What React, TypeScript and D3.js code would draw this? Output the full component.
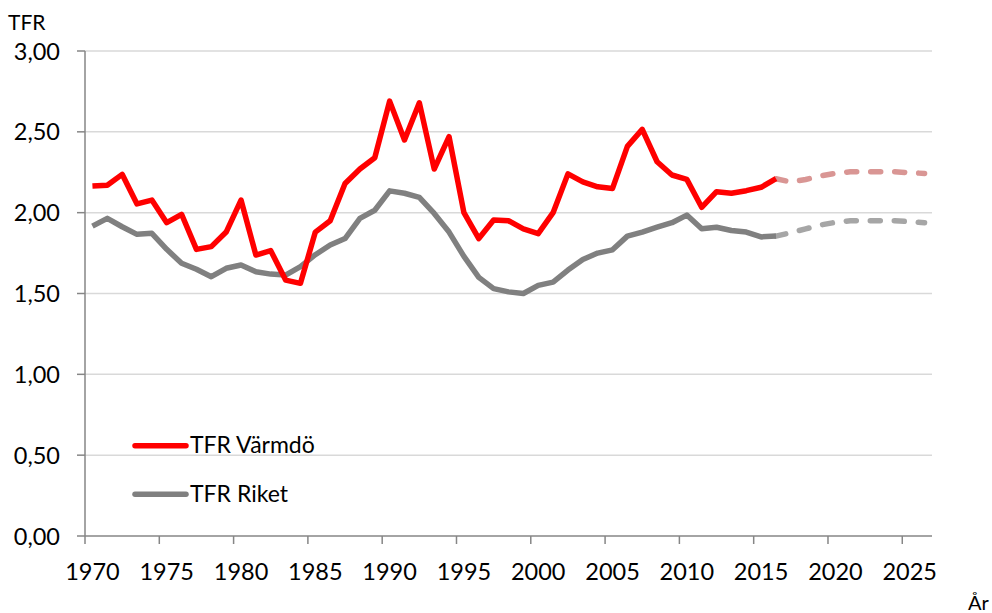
import React from "react";
import * as d3 from "d3";

const actualYears = [
  1970, 1971, 1972, 1973, 1974, 1975, 1976, 1977, 1978, 1979,
  1980, 1981, 1982, 1983, 1984, 1985, 1986, 1987, 1988, 1989,
  1990, 1991, 1992, 1993, 1994, 1995, 1996, 1997, 1998, 1999,
  2000, 2001, 2002, 2003, 2004, 2005, 2006, 2007, 2008, 2009,
  2010, 2011, 2012, 2013, 2014, 2015, 2016,
];
const varmdo = [
  2.165, 2.17, 2.237, 2.054, 2.078, 1.938, 1.99, 1.773, 1.79, 1.88,
  2.078, 1.738, 1.765, 1.583, 1.563, 1.88, 1.95, 2.18, 2.27, 2.34,
  2.69, 2.45, 2.68, 2.27, 2.47, 2.0, 1.84, 1.955, 1.95, 1.9,
  1.87, 2.0, 2.24, 2.19, 2.16, 2.15, 2.41, 2.515, 2.315, 2.233,
  2.206, 2.033, 2.13, 2.12, 2.136, 2.157, 2.21,
];
const riket = [
  1.917, 1.965, 1.913, 1.866, 1.872, 1.773, 1.687, 1.65, 1.604, 1.656,
  1.676, 1.635, 1.62, 1.614, 1.666, 1.74, 1.8, 1.84, 1.965, 2.015,
  2.135, 2.12, 2.095, 1.995, 1.88, 1.73, 1.6, 1.53, 1.51, 1.5,
  1.55, 1.57, 1.645, 1.71, 1.75, 1.77, 1.855, 1.88, 1.91, 1.938,
  1.985, 1.9, 1.91, 1.89, 1.88, 1.85, 1.855,
];
const prognosYears = [2016, 2017, 2018, 2019, 2020, 2021, 2022, 2023, 2024, 2025, 2026];
const varmdoPrognos = [2.21, 2.19, 2.205, 2.227, 2.243, 2.253, 2.253, 2.253, 2.253, 2.247, 2.243];
const riketPrognos = [1.855, 1.876, 1.9, 1.924, 1.94, 1.95, 1.95, 1.95, 1.95, 1.945, 1.938];

const allYears = [
  1970, 1971, 1972, 1973, 1974, 1975, 1976, 1977, 1978, 1979,
  1980, 1981, 1982, 1983, 1984, 1985, 1986, 1987, 1988, 1989,
  1990, 1991, 1992, 1993, 1994, 1995, 1996, 1997, 1998, 1999,
  2000, 2001, 2002, 2003, 2004, 2005, 2006, 2007, 2008, 2009,
  2010, 2011, 2012, 2013, 2014, 2015, 2016, 2017, 2018, 2019,
  2020, 2021, 2022, 2023, 2024, 2025, 2026,
];
const xTickYears = [1970, 1975, 1980, 1985, 1990, 1995, 2000, 2005, 2010, 2015, 2020, 2025];
const yTicks = [0, 0.5, 1, 1.5, 2, 2.5, 3];
const legendLabels = ["TFR Värmdö", "TFR Riket"];

const FONT = "Lato, 'Open Sans', sans-serif";

export default function App() {
  const W = 992, H = 613;
  const left = 85, right = 932, top = 51, bottom = 536;
  const x = d3.scaleBand<number>().domain(allYears).range([left, right]).padding(0);
  const bw = x.bandwidth();
  const cx = (yr: number) => (x(yr) as number) + bw / 2;
  const y = d3.scaleLinear().domain([0, 3]).range([bottom, top]);
  const fmt = (v: number) => v.toFixed(2).replace(".", ",");

  const line = d3
    .line<[number, number]>()
    .x((d) => cx(d[0]))
    .y((d) => y(d[1]));

  const zip = (yrs: number[], vals: number[]) => yrs.map((yr, i) => [yr, vals[i]] as [number, number]);

  return (
    <svg width={W} height={H} style={{ position: "absolute", left: 0, top: 0, display: "block", background: "#fff" }}>
      {yTicks.filter((t) => t > 0).map((t) => (
        <line key={"g" + t} x1={left} x2={right} y1={y(t)} y2={y(t)} stroke="#D9D9D9" strokeWidth={1.5} />
      ))}
      <line x1={left} x2={left} y1={top} y2={bottom} stroke="#868686" strokeWidth={1.5} />
      {yTicks.map((t) => (
        <g key={"y" + t}>
          <line x1={left - 8} x2={left} y1={y(t)} y2={y(t)} stroke="#868686" strokeWidth={1.5} />
          <text x={60} y={y(t) + 8.5} textAnchor="end" fontFamily={FONT} fontSize={23.5} fill="#000">
            {fmt(t)}
          </text>
        </g>
      ))}
      <line x1={left} x2={right} y1={bottom} y2={bottom} stroke="#868686" strokeWidth={1.5} />
      {xTickYears.map((yr) => (
        <g key={"x" + yr}>
          <line x1={x(yr) as number} x2={x(yr) as number} y1={bottom} y2={bottom + 8} stroke="#868686" strokeWidth={1.5} />
          <text x={cx(yr)} y={579.5} textAnchor="middle" fontFamily={FONT} fontSize={23.5} fill="#000">
            {yr}
          </text>
        </g>
      ))}
      <text x={8} y={29.5} fontFamily={FONT} fontSize={21} fill="#000">TFR</text>
      <text x={968} y={610} fontFamily={FONT} fontSize={20} fill="#000">År</text>

      <path d={line(zip(prognosYears, varmdoPrognos)) || ""} fill="none" stroke="#D99694" strokeWidth={5.5} strokeDasharray="10 14" strokeLinecap="round" />
      <path d={line(zip(prognosYears, riketPrognos)) || ""} fill="none" stroke="#A6A6A6" strokeWidth={5.5} strokeDasharray="10 14" strokeLinecap="round" />
      <path d={line(zip(actualYears, riket)) || ""} fill="none" stroke="#808080" strokeWidth={5.5} strokeLinejoin="round" />
      <path d={line(zip(actualYears, varmdo)) || ""} fill="none" stroke="#FF0000" strokeWidth={5.5} strokeLinejoin="round" />

      {legendLabels.map((lab, i) => (
        <g key={lab}>
          <line x1={135} x2={186} y1={445.7 + i * 48.5} y2={445.7 + i * 48.5} stroke={i === 0 ? "#FF0000" : "#808080"} strokeWidth={5.5} strokeLinecap="round" />
          <text x={190} y={453.3 + i * 48.5} fontFamily={FONT} fontSize={23} fill="#000">{lab}</text>
        </g>
      ))}
    </svg>
  );
}
